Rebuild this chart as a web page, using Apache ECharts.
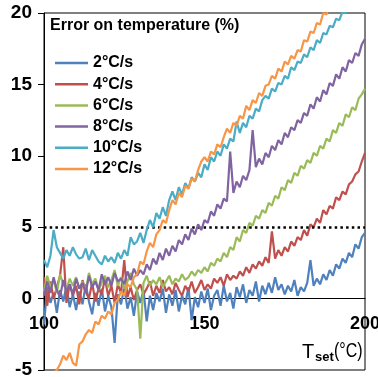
<!DOCTYPE html>
<html>
<head>
<meta charset="utf-8">
<script src="https://cdn.jsdelivr.net/npm/echarts@6/dist/echarts.min.js"></script>
<style>
html,body{margin:0;padding:0;background:#fff;}
#chart{width:378px;height:377px;}
</style>
</head>
<body>
<div id="chart"></div>
<script>
// Set temperature (°C), one reading per degree
const tset = [];
for (let t = 100; t <= 200; t++) tset.push(t);

const seriesNames = ['2°C/s', '4°C/s', '6°C/s', '8°C/s', '10°C/s', '12°C/s'];
const seriesColors = ['#4F81BD', '#C0504D', '#9BBB59', '#8064A2', '#4BACC6', '#F79646'];

const err2 = [
  -1.8, 0.8, -0.3, 0.4, -1.0, 0.6, -0.2, 0.9, -0.6, 0.3,
  -0.8, 0.5, -0.4, 1.0, -0.2, -1.1, 0.4, -0.5, 0.7, -0.9,
  0.2, -0.6, -3.1, 0.3, -0.4, 0.8, -0.7, 0.1, -1.2, 0.5,
  -0.3, 0.6, -1.6, 0.2, -0.8, 0.4, -0.2, 0.7, -1.0, 0.3,
  -0.5, 0.6, -0.9, 0.2, -0.4, 0.8, -1.5, 0.1, -0.6, 0.5,
  -0.3, 0.7, -0.8, 0.2, 0.6, -0.5, 0.9, -0.2, 0.4, -0.7,
  0.8, 0.1, 1.0, -0.3, 0.6, 0.2, 1.2, -0.2, 0.9, 0.3,
  1.1, 0.4, 1.5, 0.6, 1.0, 0.3, 0.9, 0.5, 1.3, 0.2,
  0.8, 0.5, 1.1, 2.7, 0.9, 1.4, 1.0, 1.7, 1.3, 2.0,
  1.6, 2.4, 2.1, 2.8, 2.5, 3.2, 2.9, 3.8, 3.5, 4.3, 4.6
];
const err4 = [
  1.5, -0.5, 1.2, 0.0, 0.8, 1.6, 3.6, -0.3, 1.0, 0.2,
  0.9, -0.4, 1.3, 0.5, 0.0, 1.1, -0.2, 0.7, 0.3, 1.4,
  0.2, 0.9, -0.3, 1.0, 0.4, 2.7, 0.1, 0.8, -0.1, 0.6,
  1.0, 0.3, 0.7, 1.2, 0.2, 0.9, 0.4, 1.3, 0.5, 0.8,
  0.3, 1.1, 0.6, 0.2, 0.9, 0.5, 1.2, 0.4, 0.8, 1.3,
  0.6, 1.0, 0.7, 1.4, 1.1, 1.5, 0.9, 1.7, 1.3, 1.6,
  1.4, 1.9, 1.6, 2.2, 1.8, 2.4, 2.1, 2.6, 2.3, 2.9,
  2.5, 4.7, 2.8, 3.4, 3.0, 3.6, 3.3, 4.0, 3.7, 4.3,
  4.1, 4.8, 4.4, 5.2, 5.0, 5.6, 5.3, 6.2, 5.9, 6.5,
  6.3, 7.1, 6.9, 7.5, 7.3, 8.0, 8.2, 8.7, 8.9, 9.6, 10.2
];
const err6 = [
  0.5, 1.6, 0.8, 1.3, 0.4, 1.7, 1.0, 0.6, 1.4, 0.9,
  1.5, 0.7, 1.2, 0.5, 1.8, 1.0, 1.4, 0.6, 1.1, 1.6,
  0.8, 1.3, 2.0, 0.9, 1.5, 0.7, 1.2, 1.8, 1.0, 0.6,
  -2.8, 1.1, 1.6, 0.9, 1.3, 1.0, 1.5, 0.8, 1.2, 1.6,
  1.0, 1.4, 1.2, 1.7, 1.3, 1.5, 1.9, 1.6, 2.0, 1.8,
  2.2, 1.9, 2.5, 2.3, 2.8, 2.6, 3.2, 2.9, 3.6, 3.4,
  4.3, 4.0, 4.8, 4.6, 5.3, 5.1, 5.8, 5.6, 6.2, 6.0,
  6.7, 6.5, 7.2, 7.0, 7.8, 7.6, 8.3, 8.1, 8.8, 8.6,
  9.3, 9.1, 9.7, 9.5, 10.2, 10.0, 10.7, 10.5, 11.2, 11.0,
  11.8, 11.6, 12.3, 12.1, 12.9, 12.7, 13.4, 13.2, 14.0, 14.3, 14.7
];
const err8 = [
  0.2, 1.2, 0.4, 1.5, 0.6, 0.1, 1.3, 0.5, 1.0, 0.3,
  1.4, 0.7, 1.1, 0.4, 1.6, 0.8, 1.2, 0.6, 1.7, 1.0,
  1.5, 0.9, 1.8, 1.2, 1.4, 1.0, 1.9, 1.3, 2.1, 1.6,
  2.0, 1.7, 2.4, 2.0, 2.8, 2.4, 3.2, 2.7, 3.5, 3.0,
  3.7, 3.3, 4.1, 3.8, 4.5, 4.1, 4.9, 4.5, 5.2, 4.8,
  5.5, 5.3, 6.1, 5.8, 6.6, 6.3, 7.0, 6.8, 10.3, 7.4,
  8.2, 7.8, 8.6, 8.3, 9.0, 11.8, 9.2, 9.8, 9.4, 10.2,
  9.9, 10.7, 10.4, 11.1, 10.8, 11.6, 11.3, 12.0, 11.8, 12.5,
  12.3, 13.0, 12.8, 13.6, 13.3, 14.1, 13.8, 14.6, 14.3, 15.1,
  14.9, 15.7, 15.4, 16.2, 15.9, 16.7, 16.5, 17.2, 17.0, 17.8, 18.2
];
const err10 = [
  2.7, 2.2, 3.0, 4.8, 3.6, 3.2, 2.8, 3.4, 3.0, 3.6,
  3.1, 2.8, 2.9, 3.5, 2.7, 3.4, 3.0, 2.6, 2.4, 3.0,
  2.6, 2.9, 2.5, 3.2, 2.8, 3.4, 3.0, 4.3, 3.8, 4.0,
  4.6, 3.9, 4.8, 5.5, 5.0, 6.0, 5.6, 6.4, 5.8, 6.9,
  7.5, 6.9, 7.8, 7.3, 8.1, 7.7, 8.5, 8.2, 8.8, 8.5,
  9.4, 9.0, 9.9, 9.6, 10.3, 10.0, 10.8, 10.5, 11.2, 11.0,
  12.4, 11.6, 12.3, 12.0, 12.8, 12.6, 13.3, 13.1, 13.9, 14.2,
  14.0, 14.7, 14.5, 15.1, 15.0, 15.6, 15.4, 16.2, 16.0, 16.6,
  16.5, 17.1, 16.9, 17.6, 17.4, 18.1, 17.9, 18.6, 18.5, 19.1,
  19.0, 19.6, 19.5, 20.1, 20.0, 20.6, 20.5, 21.0, 21.1, 21.5, 21.8
];
const err12 = [
  -6.5, -6.0, -5.6, -5.2, -5.0, -4.6, -4.0, -4.3, -3.8, -4.5,
  -4.7, -3.2, -3.0, -2.5, -2.2, -2.4, -1.6, -1.8, -1.2, -1.4,
  -0.9, -1.1, -0.3, -0.1, 0.5, 0.2, 1.0, 0.8, 1.5, 1.7,
  2.6, 2.4, 3.3, 3.9, 3.6, 4.5, 4.8, 5.5, 5.3, 6.2,
  6.9, 6.6, 7.4, 7.1, 7.9, 7.7, 8.4, 8.2, 9.0, 9.6,
  9.9, 9.6, 10.3, 10.1, 10.8, 10.6, 11.3, 11.9, 11.6, 12.3,
  12.1, 12.8, 12.6, 13.5, 13.2, 13.9, 13.7, 14.4, 14.2, 14.9,
  15.0, 15.6, 15.4, 16.1, 15.9, 16.6, 16.4, 17.0, 16.8, 17.4,
  17.3, 18.1, 18.0, 18.7, 18.6, 19.3, 19.2, 20.0, 19.9, 20.5,
  20.6, 21.0, 21.2, 21.5, 21.7, 22.0, 22.2, 22.5, 22.6, 22.9, 23.1
];
const seriesValues = [err2, err4, err6, err8, err10, err12];

const thresholdLevel = 5;
const xTicks = { min: 100, max: 200, step: 50 };
const yTicks = { min: -5, max: 20, step: 5 };

const FONT = '"Liberation Sans", Arial, sans-serif';
const GRID = { left: 44, top: 13, width: 321, height: 357 };
// the x axis line sits at y = 0: move it up from the bottom edge of the grid
const xAxisOffset = -GRID.height * (0 - yTicks.min) / (yTicks.max - yTicks.min);

const chart = echarts.init(document.getElementById('chart'), null, { renderer: 'canvas' });

const series = seriesNames.map((name, i) => {
  const s = {
    name: name,
    type: 'line',
    data: tset.map((t, k) => [t, seriesValues[i][k]]),
    symbol: 'none',
    showSymbol: false,
    clip: true,
    lineStyle: { color: seriesColors[i], width: 2.2 },
    itemStyle: { color: seriesColors[i] },
    emphasis: { disabled: true },
    z: 2 + i
  };
  if (i === 0) {
    s.markLine = {
      silent: true,
      symbol: ['none', 'none'],
      label: { show: false },
      lineStyle: { color: '#000', width: 2.5, type: [2.5, 3.2] },
      data: [{ yAxis: thresholdLevel }]
    };
  }
  return s;
});

chart.setOption({
  animation: false,
  backgroundColor: '#ffffff',
  title: {
    text: 'Error on temperature (%)',
    left: 50,
    top: 18,
    padding: 0,
    textStyle: { fontFamily: FONT, fontSize: 16, fontWeight: 'bold', color: '#000' }
  },
  legend: {
    orient: 'vertical',
    left: 55,
    top: 54,
    padding: 0,
    icon: 'rect',
    itemWidth: 33,
    itemHeight: 2.5,
    itemGap: 3.2,
    data: seriesNames,
    textStyle: { fontFamily: FONT, fontSize: 16, fontWeight: 'bold', color: '#000', lineHeight: 18 }
  },
  grid: {
    left: GRID.left, top: GRID.top, width: GRID.width, height: GRID.height,
    containLabel: false,
    outerBoundsMode: 'none',
    show: true, borderColor: '#000', borderWidth: 1, backgroundColor: 'transparent'
  },
  xAxis: {
    type: 'value',
    position: 'bottom',
    offset: xAxisOffset,
    min: xTicks.min, max: xTicks.max, interval: xTicks.step,
    axisLine: { onZero: false, lineStyle: { color: '#000', width: 1 } },
    axisTick: { show: false },
    splitLine: { show: false },
    axisLabel: { color: '#000', fontFamily: FONT, fontSize: 18, fontWeight: 'bold', margin: 16 }
  },
  yAxis: {
    type: 'value',
    min: yTicks.min, max: yTicks.max, interval: yTicks.step,
    axisLine: { show: true, onZero: false, lineStyle: { color: '#000', width: 1 } },
    axisTick: { show: true, length: 6, lineStyle: { color: '#000' } },
    splitLine: { show: false },
    axisLabel: { color: '#000', fontFamily: FONT, fontSize: 19, fontWeight: 'bold', margin: 12 }
  },
  graphic: [
    { type: 'text', left: 302, top: 342, style: { text: 'T', font: '20px ' + FONT, fill: '#000' } },
    { type: 'text', left: 315, top: 351, style: { text: 'set', font: 'bold 13px ' + FONT, fill: '#000' } },
    { type: 'text', left: 334, top: 341, scaleX: 0.8, style: { text: '(°C)', font: '20px ' + FONT, fill: '#000' } }
  ],
  series: series
});
</script>
</body>
</html>
